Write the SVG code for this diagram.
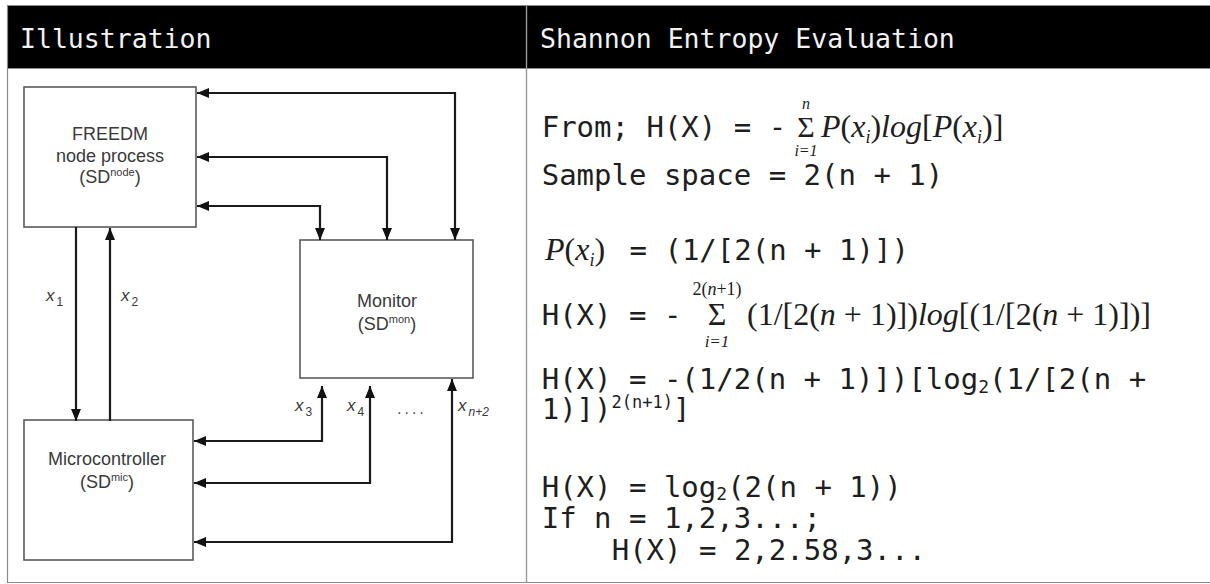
<svg xmlns="http://www.w3.org/2000/svg" width="1210" height="584" viewBox="0 0 1210 584">
<defs>
<style>
.hdr{font-family:"DejaVu Sans Mono","Liberation Mono",monospace;font-size:26.5px;fill:#f2f2f2}
.mono{font-family:"DejaVu Sans Mono","Liberation Mono",monospace;font-size:29px;fill:#1e1e1e}
.ser{font-family:"Liberation Serif","DejaVu Serif",serif;font-size:32px;fill:#1e1e1e}
.lim{font-family:"Liberation Serif","DejaVu Serif",serif;font-size:16px;fill:#1e1e1e;text-anchor:middle}
.sig{font-family:"Liberation Serif","DejaVu Serif",serif;font-size:30px;fill:#1e1e1e;text-anchor:middle}
.it{font-style:italic}
.lbl{font-family:"Liberation Sans",Arial,sans-serif;font-size:18px;fill:#3a3a3a;text-anchor:middle}
.xl{font-family:"Liberation Sans",Arial,sans-serif;font-size:17px;fill:#3a3a3a;font-style:italic}
.box{fill:#fff;stroke:#5a5a5a;stroke-width:1.6}
.con{fill:none;stroke:#1a1a1a;stroke-width:2.2}
.grid{stroke:#8a8a8a;stroke-width:1.2;fill:none}
</style>
<marker id="ah" viewBox="0 0 12 10" refX="12" refY="5" markerWidth="12" markerHeight="10" markerUnits="userSpaceOnUse" orient="auto-start-reverse">
<path d="M0,0 L12,5 L0,10 z" fill="#111"/>
</marker>
</defs>
<rect width="1210" height="584" fill="#fff"/>

<g id="table">
<rect x="7" y="6" width="1203" height="62" fill="#000"/>
<line class="grid" x1="7" y1="5.5" x2="1210" y2="5.5"/>
<line class="grid" x1="7.5" y1="6" x2="7.5" y2="582.5"/>
<line class="grid" x1="7" y1="582.5" x2="1210" y2="582.5"/>
<line class="grid" x1="7" y1="68.5" x2="1210" y2="68.5"/>
<line x1="526.5" y1="6" x2="526.5" y2="583" stroke="#9a9a9a" stroke-width="1.4"/>
<text class="hdr" x="20" y="48">Illustration</text>
<text class="hdr" x="540" y="48">Shannon Entropy Evaluation</text>
</g>

<g id="node-freedm">
<rect class="box" x="24" y="87" width="172" height="140"/>
<text class="lbl" x="110" y="140">FREEDM</text>
<text class="lbl" x="110" y="162">node process</text>
<text class="lbl" x="110" y="183">(SD<tspan font-size="11" dy="-7">node</tspan><tspan dy="7">)</tspan></text>
</g>

<g id="node-monitor">
<rect class="box" x="300" y="240" width="173" height="138"/>
<text class="lbl" x="387" y="307">Monitor</text>
<text class="lbl" x="387" y="330">(SD<tspan font-size="11" dy="-7">mon</tspan><tspan dy="7">)</tspan></text>
</g>

<g id="node-micro">
<rect class="box" x="24" y="420" width="169" height="140"/>
<text class="lbl" x="107" y="465">Microcontroller</text>
<text class="lbl" x="107" y="488">(SD<tspan font-size="11" dy="-7">mic</tspan><tspan dy="7">)</tspan></text>
</g>

<g id="connectors">
<path class="con" d="M197,93 H455 V240" marker-start="url(#ah)" marker-end="url(#ah)"/>
<path class="con" d="M197,157 H387 V240" marker-start="url(#ah)" marker-end="url(#ah)"/>
<path class="con" d="M197,206 H320 V240" marker-start="url(#ah)" marker-end="url(#ah)"/>
<path class="con" d="M76,227 V421" marker-end="url(#ah)"/>
<path class="con" d="M110,421 V228" marker-end="url(#ah)"/>
<path class="con" d="M194,441 H322 V386" marker-start="url(#ah)" marker-end="url(#ah)"/>
<path class="con" d="M194,483 H370 V386" marker-start="url(#ah)" marker-end="url(#ah)"/>
<path class="con" d="M194,542 H452 V379" marker-start="url(#ah)" marker-end="url(#ah)"/>
<text class="xl" x="46" y="301">x<tspan font-size="12" font-style="normal" dx="2" dy="5">1</tspan></text>
<text class="xl" x="121" y="301">x<tspan font-size="12" font-style="normal" dx="2" dy="5">2</tspan></text>
<text class="xl" x="295" y="411">x<tspan font-size="12" font-style="normal" dx="2" dy="5">3</tspan></text>
<text class="xl" x="347" y="411">x<tspan font-size="12" font-style="normal" dx="2" dy="5">4</tspan></text>
<text x="397" y="414" font-family="Liberation Sans,Arial,sans-serif" font-size="16" fill="#555" letter-spacing="3">....</text>
<text class="xl" x="458" y="411">x<tspan font-size="12" dx="2" dy="5">n+2</tspan></text>
</g>

<g id="formulas">
<text class="mono" x="541.7" y="137">From; H(X) = -</text>
<text class="sig" x="806" y="137">Σ</text>
<text class="lim it" x="806" y="109">n</text>
<text class="lim it" x="806" y="156">i=1</text>
<text class="ser" x="821" y="137"><tspan class="it">P</tspan>(<tspan class="it">x</tspan><tspan class="it" font-size="18" dy="6">i</tspan><tspan dy="-6">)</tspan><tspan class="it">log</tspan>[<tspan class="it">P</tspan>(<tspan class="it">x</tspan><tspan class="it" font-size="18" dy="6">i</tspan><tspan dy="-6">)]</tspan></text>

<text class="mono" x="541.7" y="185">Sample space = 2(n + 1)</text>

<text class="ser" x="545" y="260"><tspan class="it">P</tspan>(<tspan class="it">x</tspan><tspan class="it" font-size="18" dy="6">i</tspan><tspan dy="-6">)</tspan></text>
<text class="mono" x="629.5" y="260">= (1/[2(n + 1)])</text>

<text class="mono" x="541.7" y="325">H(X) = -</text>
<text class="sig" x="717" y="325" style="font-size:32px">Σ</text>
<text class="lim" x="717" y="295" style="font-size:18px">2(<tspan class="it">n</tspan>+1)</text>
<text class="lim it" x="717" y="347" style="font-size:17px">i=1</text>
<text class="ser" x="747" y="325">(1/[2(<tspan class="it">n</tspan> + 1)])<tspan class="it">log</tspan>[(1/[2(<tspan class="it">n</tspan> + 1)])]</text>

<text class="mono" x="541.7" y="389">H(X) = -(1/2(n + 1)])[log<tspan font-size="18" dy="4">2</tspan><tspan dy="-4">(1/[2(n +</tspan></text>
<text class="mono" x="541.7" y="419">1)])<tspan font-size="17" dy="-11">2(n+1)</tspan><tspan dy="11">]</tspan></text>

<text class="mono" x="541.7" y="497">H(X) = log<tspan font-size="18" dy="3">2</tspan><tspan dy="-3">(2(n + 1))</tspan></text>
<text class="mono" x="541.7" y="528">If n = 1,2,3...;</text>
<text class="mono" x="611.7" y="560">H(X) = 2,2.58,3...</text>
</g>
</svg>
